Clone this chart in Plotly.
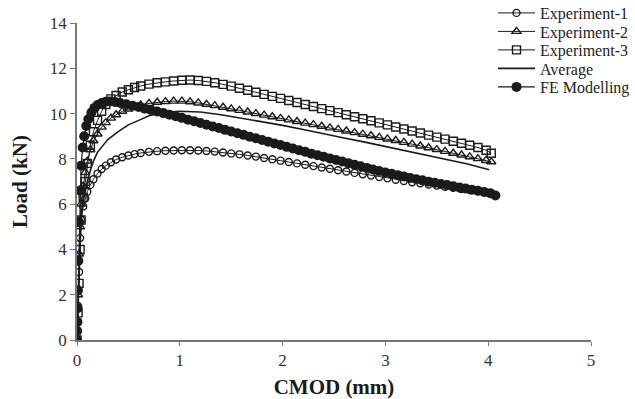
import plotly.graph_objects as go

# CMOD values (mm) shared by experimental series
cmod_exp = [0, 0.01, 0.02, 0.03, 0.04, 0.06, 0.08, 0.1, 0.13, 0.16,
            0.2, 0.24, 0.28, 0.33, 0.38, 0.44, 0.5, 0.56, 0.62, 0.7,
            0.78, 0.86, 0.94, 1.02, 1.1, 1.18, 1.26, 1.34, 1.42, 1.5,
            1.58, 1.66, 1.74, 1.82, 1.9, 1.98, 2.06, 2.14, 2.22, 2.3,
            2.38, 2.46, 2.54, 2.62, 2.7, 2.78, 2.86, 2.94, 3.02, 3.1,
            3.18, 3.26, 3.34, 3.42, 3.5, 3.58, 3.66, 3.74, 3.82, 3.9,
            3.98, 4.03]

load_exp1 = [0, 1.5, 3.0, 4.5, 5.3, 5.9, 6.25, 6.55, 6.85, 7.1,
             7.35, 7.55, 7.7, 7.85, 7.97, 8.07, 8.15, 8.21, 8.26, 8.31,
             8.34, 8.36, 8.37, 8.38, 8.38, 8.37, 8.35, 8.32, 8.28, 8.24,
             8.2, 8.15, 8.1, 8.04, 7.98, 7.92, 7.86, 7.8, 7.74, 7.68,
             7.62, 7.56, 7.5, 7.44, 7.38, 7.32, 7.26, 7.2, 7.14, 7.08,
             7.02, 6.97, 6.92, 6.87, 6.82, 6.77, 6.72, 6.67, 6.62, 6.57,
             6.52, 6.48]

load_exp2 = [0, 2.0, 3.8, 5.0, 6.0, 6.8, 7.4, 7.9, 8.4, 8.8,
             9.1, 9.4, 9.6, 9.8, 9.95, 10.1, 10.2, 10.3, 10.38, 10.45,
             10.5, 10.53, 10.55, 10.55, 10.52, 10.47, 10.41, 10.35, 10.28, 10.21,
             10.14, 10.07, 10.0, 9.93, 9.86, 9.79, 9.72, 9.65, 9.58, 9.51,
             9.44, 9.37, 9.3, 9.23, 9.16, 9.09, 9.02, 8.95, 8.88, 8.81,
             8.73, 8.65, 8.57, 8.49, 8.41, 8.33, 8.25, 8.17, 8.09, 8.01,
             7.93, 7.87]

load_exp3 = [0, 1.2, 2.5, 4.0, 5.3, 6.3, 7.0, 7.8, 8.6, 9.2,
             9.7, 10.1, 10.4, 10.65, 10.8, 10.95, 11.05, 11.15, 11.22, 11.3,
             11.36, 11.4, 11.44, 11.47, 11.48, 11.46, 11.42, 11.36, 11.29, 11.21,
             11.12, 11.03, 10.94, 10.85, 10.76, 10.67, 10.58, 10.49, 10.4, 10.31,
             10.22, 10.13, 10.04, 9.95, 9.86, 9.77, 9.68, 9.59, 9.5, 9.41,
             9.32, 9.23, 9.14, 9.05, 8.96, 8.87, 8.78, 8.69, 8.6, 8.5,
             8.38, 8.25]

cmod_avg = [0, 0.01, 0.02, 0.03, 0.04, 0.06, 0.08, 0.1, 0.13, 0.16,
            0.2, 0.25, 0.3, 0.4, 0.5, 0.6, 0.7, 0.8, 0.9, 1.0,
            1.1, 1.2, 1.4, 1.6, 1.8, 2.0, 2.2, 2.4, 2.6, 2.8,
            3.0, 3.2, 3.4, 3.6, 3.8, 4.01]
load_avg = [0, 1.6, 3.1, 4.5, 5.4, 6.1, 6.6, 7.0, 7.5, 7.9,
            8.3, 8.6, 8.85, 9.2, 9.5, 9.7, 9.9, 10.0, 10.07, 10.1,
            10.1, 10.07, 9.95, 9.8, 9.65, 9.48, 9.3, 9.1, 8.92, 8.74,
            8.55, 8.36, 8.17, 7.97, 7.77, 7.52]

cmod_fe = [0, 0.002, 0.004, 0.006, 0.009, 0.013, 0.02, 0.03, 0.04, 0.055,
           0.07, 0.09, 0.11, 0.14, 0.17, 0.2, 0.24, 0.28, 0.32, 0.37,
           0.42, 0.48, 0.54, 0.6, 0.66, 0.72, 0.78, 0.84, 0.9, 0.96,
           1.02, 1.08, 1.14, 1.2, 1.26, 1.32, 1.38, 1.44, 1.5, 1.56,
           1.62, 1.68, 1.74, 1.8, 1.86, 1.92, 1.98, 2.04, 2.1, 2.16,
           2.22, 2.28, 2.34, 2.4, 2.46, 2.52, 2.58, 2.64, 2.7, 2.76,
           2.82, 2.88, 2.94, 3.0, 3.06, 3.12, 3.18, 3.24, 3.3, 3.36,
           3.42, 3.48, 3.54, 3.6, 3.66, 3.72, 3.78, 3.84, 3.9, 3.96,
           4.02, 4.07]
load_fe = [0, 0.4, 0.8, 1.4, 2.2, 3.5, 5.2, 6.6, 7.7, 8.5,
           9.0, 9.45, 9.75, 10.05, 10.25, 10.38, 10.47, 10.52, 10.53, 10.51,
           10.47, 10.41, 10.35, 10.29, 10.22, 10.16, 10.09, 10.02, 9.95, 9.88,
           9.81, 9.73, 9.66, 9.58, 9.51, 9.43, 9.36, 9.28, 9.21, 9.13,
           9.06, 8.98, 8.91, 8.83, 8.76, 8.68, 8.61, 8.53, 8.46, 8.38,
           8.31, 8.23, 8.16, 8.09, 8.02, 7.95, 7.88, 7.81, 7.74, 7.67,
           7.6, 7.53, 7.46, 7.4, 7.34, 7.28, 7.22, 7.16, 7.1, 7.05,
           6.99, 6.94, 6.89, 6.84, 6.79, 6.74, 6.69, 6.64, 6.59, 6.54,
           6.48, 6.38]

x_ticks = [0, 1, 2, 3, 4, 5]
y_ticks = [0, 2, 4, 6, 8, 10, 12, 14]
series_names = ["Experiment-1", "Experiment-2", "Experiment-3", "Average", "FE Modelling"]

INK = "#1a1a1a"
FONT = "Liberation Serif, Times New Roman, serif"

W, H = 635, 399
ML, MR, MT, MB = 77, 44, 23, 59

fig = go.Figure()
fig.add_trace(go.Scatter(
    x=cmod_exp, y=load_exp1, name=series_names[0], mode="lines+markers",
    line=dict(color=INK, width=1), legend="legend",
    marker=dict(symbol="circle-open", size=7, color=INK, line=dict(width=1.4))))
fig.add_trace(go.Scatter(
    x=cmod_exp, y=load_exp2, name=series_names[1], mode="lines+markers",
    line=dict(color=INK, width=1), legend="legend2",
    marker=dict(symbol="triangle-up-open", size=8, color=INK, line=dict(width=1.4))))
fig.add_trace(go.Scatter(
    x=cmod_exp, y=load_exp3, name=series_names[2], mode="lines+markers",
    line=dict(color=INK, width=1), legend="legend3",
    marker=dict(symbol="square-open", size=8, color=INK, line=dict(width=1.4))))
fig.add_trace(go.Scatter(
    x=cmod_avg, y=load_avg, name=series_names[3], mode="lines",
    line=dict(color=INK, width=1.6), legend="legend4"))
fig.add_trace(go.Scatter(
    x=cmod_fe, y=load_fe, name=series_names[4], mode="lines+markers",
    line=dict(color=INK, width=1.2), legend="legend5",
    marker=dict(symbol="circle", size=10, color=INK)))

# one legend box per entry so the rows can sit ~18 px apart, as in the original
legend_rows = {}
for i, key in enumerate(["legend", "legend2", "legend3", "legend4", "legend5"]):
    cy = 13 + 18.5 * i  # row centre in pixels from the top of the figure
    legend_rows[key] = dict(
        xref="container", yref="container",
        x=493 / W, y=1 - cy / H, xanchor="left", yanchor="middle",
        bgcolor="rgba(0,0,0,0)", itemwidth=37,
        font=dict(size=16, family=FONT, color="#222"))

fig.update_layout(
    width=W, height=H,
    margin=dict(l=ML, r=MR, t=MT, b=MB, autoexpand=False),
    paper_bgcolor="white", plot_bgcolor="white",
    font=dict(family=FONT, color=INK, size=17),
    showlegend=True,
    **legend_rows,
)
fig.update_xaxes(
    range=[0, 5], tickvals=x_ticks, ticktext=[str(v) for v in x_ticks],
    showgrid=False, zeroline=False, showline=True, linecolor="#777", linewidth=2,
    ticks="outside", ticklen=4, tickcolor="#777",
    tickfont=dict(size=17, family=FONT, color="#333"),
    title=dict(text="<b>CMOD (mm)</b>", font=dict(size=21, family=FONT, color=INK), standoff=13),
)
fig.update_yaxes(
    range=[0, 14], tickvals=y_ticks, ticktext=[str(v) for v in y_ticks],
    showgrid=False, zeroline=False, showline=True, linecolor="#777", linewidth=1.5,
    ticks="outside", ticklen=5, tickcolor="#777",
    tickfont=dict(size=17, family=FONT, color="#333"),
    title=dict(text="<b>Load (kN)</b>", font=dict(size=21, family=FONT, color=INK), standoff=16),
)

fig.write_html("out.html")
